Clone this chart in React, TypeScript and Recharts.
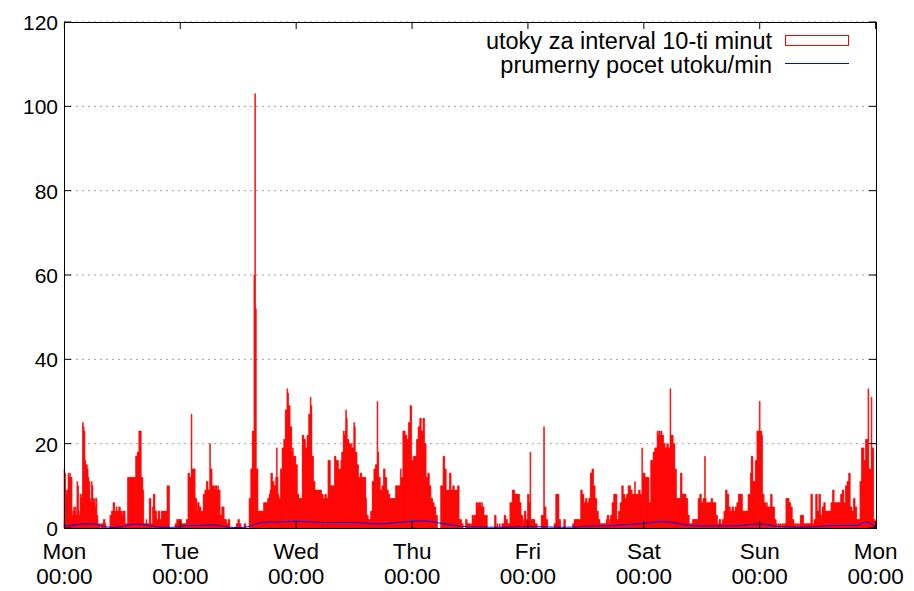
import React from "react";
import { ComposedChart, Bar, Line, XAxis, YAxis, CartesianGrid } from "recharts";

// attacks per 10-minute interval, one array per day (144 intervals each)
const monAttacks = [
  14, 13, 9, 8, 9, 13, 12, 13, 12, 12, 3, 4,
  5, 4, 5, 3, 11, 10, 4, 3, 8, 7, 8, 25,
  24, 23, 16, 15, 15, 14, 12, 11, 7, 6, 11, 10,
  7, 6, 7, 5, 7, 3, 1, 1, 1, 0, 1, 1,
  1, 2, 2, 1, 0, 0, 0, 0, 0, 3, 3, 4,
  4, 6, 6, 4, 4, 5, 4, 4, 5, 5, 4, 4,
  3, 4, 4, 4, 1, 1, 1, 12, 12, 12, 12, 12,
  12, 12, 12, 12, 12, 17, 17, 18, 18, 23, 23, 23,
  12, 12, 9, 1, 1, 1, 2, 1, 1, 1, 7, 7,
  1, 1, 5, 8, 8, 4, 4, 2, 2, 4, 4, 2,
  2, 4, 4, 4, 4, 4, 4, 4, 10, 10, 10, 0,
  0, 0, 0, 0, 0, 0, 1, 1, 2, 2, 2, 2,
];
const tueAttacks = [
  2, 2, 1, 1, 1, 1, 1, 1, 2, 2, 13, 13,
  12, 12, 27, 14, 14, 14, 14, 7, 7, 4, 6, 6,
  5, 5, 4, 4, 4, 8, 8, 9, 9, 11, 11, 9,
  9, 20, 14, 14, 10, 10, 10, 9, 10, 10, 9, 10,
  9, 9, 3, 3, 5, 5, 5, 2, 2, 2, 1, 1,
  2, 2, 0, 0, 0, 0, 0, 0, 0, 0, 1, 1,
  2, 2, 1, 1, 0, 0, 0, 0, 1, 1, 0, 0,
  0, 0, 7, 7, 14, 14, 23, 23, 60, 103, 52, 14,
  14, 4, 4, 4, 4, 4, 4, 4, 6, 6, 6, 6,
  6, 7, 7, 8, 9, 13, 13, 11, 11, 10, 10, 12,
  19, 12, 8, 7, 7, 14, 14, 19, 19, 21, 21, 28,
  28, 33, 32, 29, 29, 24, 24, 18, 19, 17, 17, 17,
];
const wedAttacks = [
  15, 15, 8, 8, 7, 7, 7, 7, 22, 22, 21, 21,
  19, 19, 22, 22, 27, 27, 31, 29, 17, 17, 11, 11,
  9, 9, 9, 9, 9, 9, 9, 9, 8, 8, 7, 7,
  8, 8, 7, 7, 16, 16, 16, 10, 10, 10, 10, 10,
  17, 17, 16, 16, 16, 14, 14, 14, 16, 18, 18, 23,
  22, 23, 28, 26, 21, 21, 20, 20, 19, 20, 19, 19,
  25, 24, 18, 18, 15, 15, 12, 12, 13, 13, 12, 12,
  12, 12, 12, 7, 3, 3, 2, 2, 2, 4, 4, 11,
  11, 14, 14, 15, 15, 30, 18, 12, 12, 9, 9, 10,
  10, 14, 14, 12, 12, 9, 9, 8, 8, 7, 7, 7,
  7, 7, 7, 7, 10, 10, 10, 10, 10, 10, 14, 12,
  12, 23, 23, 23, 22, 22, 21, 21, 25, 25, 29, 29,
];
const thuAttacks = [
  16, 16, 17, 17, 17, 17, 21, 21, 24, 24, 26, 26,
  23, 23, 26, 26, 20, 20, 12, 12, 13, 13, 10, 10,
  7, 7, 6, 6, 5, 5, 3, 3, 0, 0, 0, 0,
  10, 10, 10, 17, 17, 14, 14, 9, 9, 9, 9, 13,
  13, 9, 9, 10, 10, 9, 9, 9, 9, 10, 10, 2,
  2, 2, 1, 1, 0, 0, 0, 2, 2, 1, 1, 1,
  1, 0, 1, 3, 3, 2, 3, 3, 6, 6, 5, 6,
  6, 6, 5, 6, 5, 5, 3, 3, 3, 3, 0, 0,
  0, 0, 0, 0, 0, 0, 0, 3, 3, 0, 1, 0,
  0, 1, 0, 0, 1, 1, 1, 3, 3, 2, 2, 1,
  1, 1, 6, 6, 6, 9, 9, 9, 8, 8, 8, 8,
  8, 8, 6, 6, 3, 3, 1, 2, 4, 4, 2, 2,
];
const friAttacks = [
  8, 8, 6, 18, 2, 2, 2, 2, 2, 1, 1, 1,
  0, 0, 0, 0, 0, 3, 3, 3, 24, 5, 5, 2,
  2, 0, 0, 0, 0, 0, 0, 0, 0, 1, 1, 8,
  8, 8, 8, 2, 2, 0, 0, 0, 0, 2, 2, 0,
  0, 0, 0, 0, 0, 0, 0, 0, 1, 1, 2, 2,
  2, 2, 2, 2, 2, 2, 9, 9, 8, 8, 6, 6,
  7, 7, 6, 6, 7, 7, 13, 13, 14, 14, 10, 10,
  7, 7, 4, 4, 2, 2, 1, 1, 1, 1, 1, 1,
  1, 1, 2, 3, 3, 1, 2, 3, 3, 6, 6, 8,
  8, 8, 8, 2, 2, 4, 4, 6, 6, 10, 10, 8,
  8, 7, 7, 8, 8, 10, 10, 10, 9, 9, 8, 8,
  8, 11, 8, 8, 8, 8, 9, 9, 8, 8, 19, 13,
];
const satAttacks = [
  13, 13, 12, 12, 12, 12, 12, 6, 6, 16, 16, 16,
  18, 18, 19, 19, 19, 23, 22, 23, 23, 22, 23, 22,
  22, 20, 20, 19, 19, 20, 20, 19, 19, 33, 22, 22,
  22, 20, 20, 14, 14, 7, 7, 7, 7, 7, 13, 13,
  8, 8, 8, 8, 8, 7, 7, 3, 3, 1, 1, 1,
  1, 2, 2, 2, 2, 2, 2, 2, 7, 7, 8, 8,
  6, 6, 7, 7, 17, 7, 6, 6, 6, 6, 6, 6,
  7, 7, 6, 6, 6, 6, 3, 3, 1, 1, 2, 2,
  1, 1, 2, 2, 4, 4, 9, 9, 8, 8, 5, 5,
  4, 4, 5, 5, 4, 4, 5, 5, 6, 6, 8, 8,
  8, 8, 8, 4, 4, 4, 4, 4, 4, 4, 8, 8,
  8, 13, 17, 17, 11, 11, 11, 16, 16, 23, 23, 23,
];
const sunAttacks = [
  30, 23, 23, 22, 8, 8, 6, 6, 5, 6, 5, 5,
  5, 5, 8, 8, 5, 5, 5, 2, 2, 1, 0, 1,
  1, 0, 1, 0, 1, 1, 0, 1, 1, 7, 7, 7,
  7, 6, 6, 5, 5, 2, 2, 1, 1, 1, 0, 1,
  1, 0, 1, 3, 3, 3, 3, 1, 1, 1, 1, 1,
  1, 1, 1, 1, 8, 8, 1, 1, 2, 2, 8, 8,
  4, 4, 8, 8, 3, 3, 5, 5, 6, 6, 4, 4,
  4, 4, 4, 4, 4, 6, 6, 9, 9, 6, 6, 6,
  6, 6, 6, 6, 6, 8, 8, 9, 9, 6, 6, 10,
  10, 11, 11, 13, 13, 5, 5, 4, 4, 7, 7, 5,
  5, 2, 2, 2, 2, 11, 11, 19, 19, 19, 16, 16,
  21, 21, 21, 33, 14, 14, 14, 31, 19, 19, 2, 2,
];

// average attacks per minute, sampled every 2 hours (12 intervals)
const avgPerMin = [
  0.5, 0.7, 0.95, 1.0, 0.4, 0.15, 0.3, 0.9, 0.9, 0.5, 0.2, 0.15,
  0.4, 0.6, 0.6, 0.7, 0.6, 0.2, 0.1, 0.3, 1.1, 1.4, 1.4, 1.5,
  1.6, 1.5, 1.4, 1.3, 1.3, 1.3, 1.3, 1.2, 1.0, 1.0, 1.2, 1.4,
  1.6, 1.7, 1.5, 1.1, 0.8, 0.4, 0.3, 0.3, 0.2, 0.2, 0.2, 0.3,
  0.3, 0.3, 0.25, 0.2, 0.2, 0.25, 0.4, 0.5, 0.5, 0.6, 0.8, 0.9,
  1.1, 1.4, 1.5, 1.3, 0.9, 0.55, 0.5, 0.5, 0.5, 0.5, 0.55, 0.8,
  0.95, 0.7, 0.35, 0.3, 0.2, 0.25, 0.35, 0.55, 0.6, 0.6, 0.6, 1.4,
  0.1,
];

const dayLabels = ["Mon", "Tue", "Wed", "Thu", "Fri", "Sat", "Sun", "Mon"];
const dayTicks = [0, 144, 288, 432, 576, 720, 864, 1008];
const yTicks = [0, 20, 40, 60, 80, 100, 120];

const attacks = [
  ...monAttacks, ...tueAttacks, ...wedAttacks, ...thuAttacks,
  ...friAttacks, ...satAttacks, ...sunAttacks,
];

const data = Array.from({ length: attacks.length + 1 }, (_, i) => ({
  i,
  attacks: i < attacks.length ? attacks[i] : null,
  avg: i % 12 === 0 ? avgPerMin[i / 12] : null,
}));

const W = 914;
const H = 591;
const PLOT = { left: 64, right: 876, top: 22, bottom: 528 };
const FONT = "'Liberation Sans', Arial, Helvetica, sans-serif";
const FS = 22;
const LEGEND_FS = 23.5;

const XTick = (props: any) => {
  const { x, payload } = props;
  const label = dayLabels[dayTicks.indexOf(payload.value)] ?? "";
  return (
    <g>
      <line x1={x} x2={x} y1={PLOT.bottom} y2={PLOT.bottom - 7} stroke="#000" />
      <line x1={x} x2={x} y1={PLOT.top} y2={PLOT.top + 7} stroke="#000" />
      <text x={x} y={PLOT.bottom + 31} textAnchor="middle" fontFamily={FONT} fontSize={FS + 0.5} fill="#000">
        {label}
      </text>
      <text x={x} y={PLOT.bottom + 56} textAnchor="middle" fontFamily={FONT} fontSize={FS + 0.5} fill="#000">
        00:00
      </text>
    </g>
  );
};

const YTick = (props: any) => {
  const { y, payload } = props;
  return (
    <g>
      <line x1={PLOT.left} x2={PLOT.left + 7} y1={y} y2={y} stroke="#000" />
      <line x1={PLOT.right - 7} x2={PLOT.right} y1={y} y2={y} stroke="#000" />
      <text x={58} y={y + 8} textAnchor="end" fontFamily={FONT} fontSize={FS - 1} fill="#000">
        {payload.value}
      </text>
    </g>
  );
};

export default function App() {
  return (
    <div style={{ position: "absolute", left: 0, top: 0, width: W, height: H, background: "#fff" }}>
      <ComposedChart
        width={W}
        height={H}
        data={data}
        margin={{ top: PLOT.top, right: W - PLOT.right, bottom: 0, left: 0 }}
        barCategoryGap={0}
        barGap={0}
      >
        <CartesianGrid vertical={false} stroke="#a0a0a0" strokeDasharray="2 4" />
        <XAxis
          dataKey="i"
          type="category"
          ticks={dayTicks}
          interval={0}
          axisLine={false}
          tickLine={false}
          height={H - PLOT.bottom}
          tick={<XTick />}
        />
        <YAxis
          domain={[0, 120]}
          ticks={yTicks}
          width={PLOT.left}
          axisLine={false}
          tickLine={false}
          tick={<YTick />}
        />
        <Bar dataKey="attacks" fill="#ff0000" stroke="#ff0000" strokeWidth={0.6} isAnimationActive={false} />
        <Line
          dataKey="avg"
          type="monotone"
          stroke="#0000ff"
          strokeWidth={1}
          dot={false}
          connectNulls
          isAnimationActive={false}
        />
      </ComposedChart>
      <div
        style={{
          position: "absolute",
          left: PLOT.left,
          top: PLOT.top,
          width: PLOT.right - PLOT.left + 1,
          height: PLOT.bottom - PLOT.top + 1,
          boxSizing: "border-box",
          border: "1px solid #000",
          pointerEvents: "none",
        }}
      />
      <svg width={W} height={90} style={{ position: "absolute", left: 0, top: 0, pointerEvents: "none" }}>
        <text x={772} y={49} textAnchor="end" fontFamily={FONT} fontSize={LEGEND_FS} fill="#000">
          utoky za interval 10-ti minut
        </text>
        <rect x={785.5} y={35.5} width={63} height={10} fill="none" stroke="#ff0000" strokeWidth={1} />
        <text x={772} y={73} textAnchor="end" fontFamily={FONT} fontSize={LEGEND_FS} fill="#000">
          prumerny pocet utoku/min
        </text>
        <line x1={785} x2={849} y1={63.5} y2={63.5} stroke="#0000ff" strokeWidth={1} />
      </svg>
    </div>
  );
}
